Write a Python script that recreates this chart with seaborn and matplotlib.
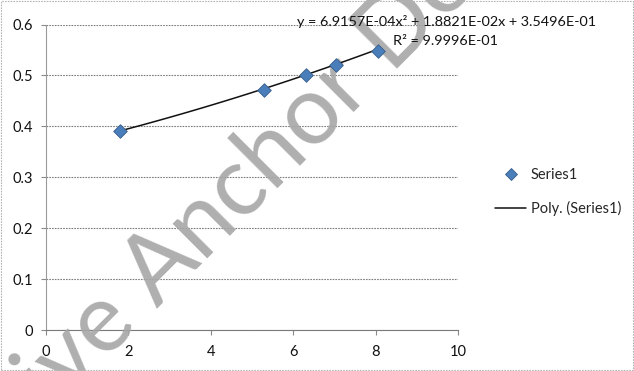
import numpy as np
import pandas as pd
import matplotlib
matplotlib.use("Agg")
import matplotlib.pyplot as plt
from matplotlib.lines import Line2D
from matplotlib.ticker import FuncFormatter
import seaborn as sns

# Measured points
x_vals = [1.8, 5.3, 6.3, 7.05, 8.05]
y_vals = [0.391, 0.472, 0.500, 0.521, 0.548]

# Second-order polynomial trendline (a*x^2 + b*x + c) and its R^2
poly_coef = [6.9157e-04, 1.8821e-02, 3.5496e-01]
r_squared = 9.9996e-01

x_ticks = [0, 2, 4, 6, 8, 10]
y_ticks = [0, 0.1, 0.2, 0.3, 0.4, 0.5, 0.6]

series_label = "Series1"
trend_label = "Poly. (Series1)"
watermark = "ive Anchor Do"

sns.set_theme(style="white")
plt.rcParams["font.family"] = ["Lato", "DejaVu Sans"]

df = pd.DataFrame({"x": x_vals, "y": y_vals})
tx = np.linspace(min(x_vals), max(x_vals), 100)
trend = pd.DataFrame({"x": tx, "y": np.polyval(poly_coef, tx)})

W, H = 634, 371
fig = plt.figure(figsize=(W / 100, H / 100), dpi=100)
fig.patch.set_facecolor("white")
ax = fig.add_axes([46 / W, 41 / H, 412 / W, 305.5 / H])

ax.set_xlim(0, 10)
ax.set_ylim(0, 0.6)
ax.set_xticks(x_ticks)
ax.set_yticks(y_ticks)
ax.yaxis.set_major_formatter(FuncFormatter(lambda v, p: "0" if v == 0 else f"{v:g}"))

for s in ("top", "right"):
    ax.spines[s].set_visible(False)
ax.spines["left"].set_color("#9a9a9a")
ax.spines["left"].set_linewidth(0.8)
ax.spines["bottom"].set_color("#7a7a7a")
ax.spines["bottom"].set_linewidth(0.8)
ax.spines["bottom"].set_linestyle((0, (1.5, 1)))

ax.grid(axis="y", color="#7d7d7d", linewidth=0.8, linestyle=(0, (1.5, 1)), zorder=0)
ax.set_axisbelow(True)
ax.tick_params(axis="both", which="major", direction="out", length=3.5, width=0.8,
               color="#8a8a8a", labelsize=10.5, labelcolor="#111111")
ax.tick_params(axis="x", pad=7.5)
ax.tick_params(axis="y", pad=6)
ax.tick_params(left=True, bottom=True)

sns.lineplot(data=trend, x="x", y="y", ax=ax, color="#111111", linewidth=1.1,
             zorder=4, legend=False)
sns.scatterplot(data=df, x="x", y="y", ax=ax, marker="D", s=48, color="#4A7EBB",
                edgecolor="#385D8A", linewidth=0.6, zorder=5, legend=False)
ax.set_xlabel("")
ax.set_ylabel("")

# diagonal stamp across the sheet, baseline running up at 45 degrees;
# kept in the axes draw order so the markers and trendline sit on top of it
ax.text(53 / W, 1 - 413 / H, watermark, transform=fig.transFigure, clip_on=False,
        ha="left", va="baseline", rotation=45, rotation_mode="anchor", fontsize=69,
        color="#a6a6a6", alpha=0.9, family=["Lato", "DejaVu Sans"], zorder=3)

a, b, c = poly_coef
eq = f"y = {a:.4E}x\u00b2 + {b:.4E}x + {c:.4E}"
fig.text(446.5 / W, 1 - 22 / H, eq, ha="center", va="center", fontsize=10.4,
         color="#111111", zorder=6)
fig.text(445.5 / W, 1 - 41 / H, f"R\u00b2 = {r_squared:.4E}", ha="center", va="center",
         fontsize=10.4, color="#111111", zorder=6)

handles = [
    Line2D([], [], marker="D", linestyle="none", markersize=6.5,
           markerfacecolor="#4A7EBB", markeredgecolor="#385D8A", markeredgewidth=0.6),
    Line2D([], [], color="#111111", linewidth=1.1),
]
fig.legend(handles, [series_label, trend_label], loc="center left",
           bbox_to_anchor=(488 / W, 1 - 192 / H), frameon=False, fontsize=10.5,
           handlelength=2.1, handletextpad=0.35, labelspacing=1.3, borderpad=0)

# sheet outline
fig.add_artist(plt.Rectangle((1 / W, 1 / H), 1 - 2 / W, 1 - 2 / H, transform=fig.transFigure,
                             fill=False, edgecolor="#b5b5b5", linewidth=0.8,
                             linestyle=(0, (1.5, 1))))

fig.savefig("out.png", dpi=100, facecolor="white")
